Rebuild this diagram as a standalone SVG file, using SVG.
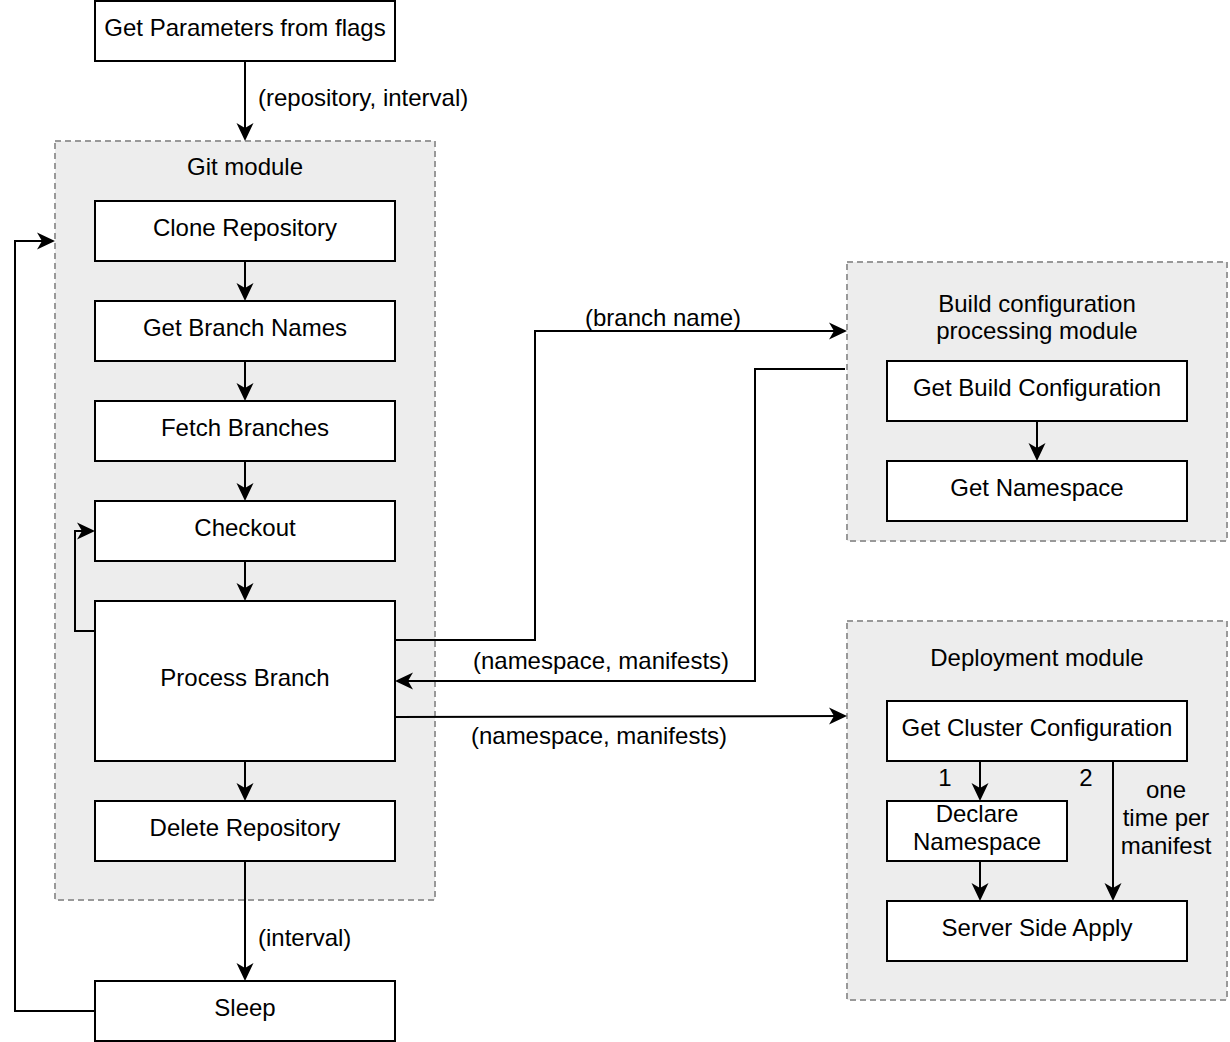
<svg xmlns="http://www.w3.org/2000/svg" width="1230" height="1042" viewBox="0 0 1230 1042">
<defs>
<style>
.box{fill:#fff;stroke:#000;stroke-width:2}
.grp{fill:#ededed;stroke:#999;stroke-width:2;stroke-dasharray:6 4}
text{font-family:"Liberation Sans",Arial,sans-serif;font-size:24px;fill:#000}
.c{text-anchor:middle}
.e{fill:none;stroke:#000;stroke-width:2}
</style>
<marker id="a" viewBox="0 0 18 18" refX="16" refY="9" markerWidth="18" markerHeight="18" markerUnits="userSpaceOnUse" orient="auto">
<path d="M0,0.5 L18,9 L0,17.5 L5,9 Z" fill="#000"/>
</marker>
</defs>
<rect width="1230" height="1042" fill="#fff"/>
<g id="git-module"><rect class="grp" x="55" y="141" width="380" height="759"/><text class="c" x="245" y="175">Git module</text></g>
<g id="build-module"><rect class="grp" x="847" y="262" width="380" height="279"/><text class="c" x="1037" y="312">Build configuration</text><text class="c" x="1037" y="339">processing module</text></g>
<g id="deploy-module"><rect class="grp" x="847" y="621" width="380" height="379"/><text class="c" x="1037" y="666">Deployment module</text></g>
<g id="connectors">
<path class="e" d="M245,61 V139" marker-end="url(#a)"/>
<text x="258" y="106">(repository, interval)</text>
<path class="e" d="M245,261 V299" marker-end="url(#a)"/>
<path class="e" d="M245,361 V399" marker-end="url(#a)"/>
<path class="e" d="M245,461 V499" marker-end="url(#a)"/>
<path class="e" d="M245,561 V599" marker-end="url(#a)"/>
<path class="e" d="M245,761 V799" marker-end="url(#a)"/>
<path class="e" d="M245,861 V979" marker-end="url(#a)"/>
<text x="258" y="946">(interval)</text>
<path class="e" d="M95,631 H75 V531 H93" marker-end="url(#a)"/>
<path class="e" d="M95,1011 H15 V241 H53" marker-end="url(#a)"/>
<path class="e" d="M395,640 H535 V331 H845" marker-end="url(#a)"/>
<text class="c" x="663" y="326">(branch name)</text>
<path class="e" d="M845,369 H755 V681 H397" marker-end="url(#a)"/>
<text class="c" x="601" y="669">(namespace, manifests)</text>
<path class="e" d="M395,717 L845,716" marker-end="url(#a)"/>
<text class="c" x="599" y="744">(namespace, manifests)</text>
<path class="e" d="M1037,421 V459" marker-end="url(#a)"/>
<path class="e" d="M980,761 V799" marker-end="url(#a)"/>
<text class="c" x="945" y="786">1</text>
<path class="e" d="M1113,761 V899" marker-end="url(#a)"/>
<text class="c" x="1086" y="786">2</text>
<text class="c" x="1166" y="798">one</text>
<text class="c" x="1166" y="826">time per</text>
<text class="c" x="1166" y="854">manifest</text>
<path class="e" d="M980,861 V899" marker-end="url(#a)"/>
</g>
<g id="get-parameters"><rect class="box" x="95" y="1" width="300" height="60"/><text class="c" x="245" y="36">Get Parameters from flags</text></g>
<g id="clone"><rect class="box" x="95" y="201" width="300" height="60"/><text class="c" x="245" y="236">Clone Repository</text></g>
<g id="branch-names"><rect class="box" x="95" y="301" width="300" height="60"/><text class="c" x="245" y="336">Get Branch Names</text></g>
<g id="fetch"><rect class="box" x="95" y="401" width="300" height="60"/><text class="c" x="245" y="436">Fetch Branches</text></g>
<g id="checkout"><rect class="box" x="95" y="501" width="300" height="60"/><text class="c" x="245" y="536">Checkout</text></g>
<g id="process"><rect class="box" x="95" y="601" width="300" height="160"/><text class="c" x="245" y="686">Process Branch</text></g>
<g id="delete"><rect class="box" x="95" y="801" width="300" height="60"/><text class="c" x="245" y="836">Delete Repository</text></g>
<g id="sleep"><rect class="box" x="95" y="981" width="300" height="60"/><text class="c" x="245" y="1016">Sleep</text></g>
<g id="get-build"><rect class="box" x="887" y="361" width="300" height="60"/><text class="c" x="1037" y="396">Get Build Configuration</text></g>
<g id="get-ns"><rect class="box" x="887" y="461" width="300" height="60"/><text class="c" x="1037" y="496">Get Namespace</text></g>
<g id="cluster"><rect class="box" x="887" y="701" width="300" height="60"/><text class="c" x="1037" y="736">Get Cluster Configuration</text></g>
<g id="declare"><rect class="box" x="887" y="801" width="180" height="60"/><text class="c" x="977" y="822">Declare</text><text class="c" x="977" y="850">Namespace</text></g>
<g id="ssa"><rect class="box" x="887" y="901" width="300" height="60"/><text class="c" x="1037" y="936">Server Side Apply</text></g>
</svg>
